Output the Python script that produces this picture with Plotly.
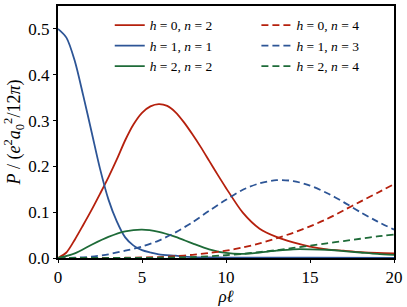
import plotly.graph_objects as go

# h=0, n=2 (red solid)
x_h0n2 = [0, 0.5, 1, 1.5, 2, 2.5, 3, 3.5, 4, 4.5, 5, 5.5, 6, 6.5, 7, 7.5, 8, 8.5, 9, 9.5, 10, 11, 12, 13, 14, 15, 16, 17, 18, 19, 20]
y_h0n2 = [0, 0.012, 0.04, 0.072, 0.105, 0.14, 0.176, 0.215, 0.257, 0.292, 0.317, 0.331, 0.336, 0.332, 0.318, 0.296, 0.27, 0.242, 0.212, 0.182, 0.153, 0.099, 0.064, 0.046, 0.034, 0.025, 0.019, 0.016, 0.013, 0.011, 0.01]
# h=1, n=1 (blue solid)
x_h1n1 = [0, 0.5, 1, 1.5, 2, 2.5, 3, 3.5, 4, 4.5, 5, 5.5, 6, 7, 8, 10, 15, 20]
y_h1n1 = [0.5, 0.481, 0.43, 0.355, 0.275, 0.195, 0.128, 0.08, 0.045, 0.027, 0.017, 0.012, 0.008, 0.005, 0.002, 0.001, 0.0005, 0.0003]
# h=2, n=2 (green solid)
x_h2n2 = [0, 1, 2, 3, 4, 5, 6, 7, 8, 9, 10, 11, 12, 13, 14, 15, 16, 17, 18, 19, 20]
y_h2n2 = [0, 0.01, 0.029, 0.046, 0.058, 0.062, 0.057, 0.046, 0.032, 0.019, 0.011, 0.009, 0.012, 0.016, 0.019, 0.019, 0.018, 0.015, 0.012, 0.009, 0.007]
# h=0, n=4 (red dashed)
x_h0n4 = [0, 2, 4, 6, 7, 8, 9, 10, 11, 12, 13, 14, 15, 16, 17, 18, 19, 20]
y_h0n4 = [0, 0, 0.0005, 0.002, 0.004, 0.007, 0.011, 0.016, 0.023, 0.032, 0.043, 0.055, 0.069, 0.085, 0.104, 0.123, 0.142, 0.161]
# h=1, n=3 (blue dashed)
x_h1n3 = [0, 1, 2, 3, 4, 5, 6, 7, 8, 9, 10, 11, 12, 13, 14, 15, 16, 17, 18, 19, 20]
y_h1n3 = [0, 0.0005, 0.003, 0.008, 0.016, 0.025, 0.038, 0.056, 0.078, 0.103, 0.127, 0.149, 0.163, 0.17, 0.168, 0.158, 0.142, 0.122, 0.1, 0.08, 0.062]
# h=2, n=4 (green dashed)
x_h2n4 = [0, 4, 6, 8, 10, 11, 12, 13, 14, 15, 16, 17, 18, 19, 20]
y_h2n4 = [0, 0, 0.0005, 0.002, 0.006, 0.009, 0.013, 0.017, 0.022, 0.027, 0.032, 0.037, 0.042, 0.047, 0.051]

x_ticks = [0, 5, 10, 15, 20]
y_ticks = [0.0, 0.1, 0.2, 0.3, 0.4, 0.5]

RED = "#b5200d"
BLUE = "#2d5596"
GREEN = "#1e6b38"
SERIF = "Liberation Serif, DejaVu Serif, serif"
DASH = "7px,4px"

series = [
    (x_h0n2, y_h0n2, RED, "solid", "<i>h</i> = 0, <i>n</i> = 2", "legend"),
    (x_h1n1, y_h1n1, BLUE, "solid", "<i>h</i> = 1, <i>n</i> = 1", "legend"),
    (x_h2n2, y_h2n2, GREEN, "solid", "<i>h</i> = 2, <i>n</i> = 2", "legend"),
    (x_h0n4, y_h0n4, RED, DASH, "<i>h</i> = 0, <i>n</i> = 4", "legend2"),
    (x_h1n3, y_h1n3, BLUE, DASH, "<i>h</i> = 1, <i>n</i> = 3", "legend2"),
    (x_h2n4, y_h2n4, GREEN, DASH, "<i>h</i> = 2, <i>n</i> = 4", "legend2"),
]

fig = go.Figure()
for xs, ys, c, d, name, lg in series:
    fig.add_trace(go.Scatter(x=xs, y=ys, mode="lines", name=name, legend=lg,
                             line=dict(color=c, width=1.8, dash=d, shape="spline", smoothing=0.8)))

axis_common = dict(showline=True, linecolor="black", linewidth=2, mirror=True,
                   showgrid=False, zeroline=False, ticks="outside", ticklen=3,
                   tickcolor="black", tickfont=dict(family=SERIF, size=17, color="black"))

legend_common = dict(orientation="v", y=0.985, xanchor="left", yanchor="top",
                     bgcolor="rgba(0,0,0,0)", tracegroupgap=0,
                     font=dict(family=SERIF, size=13.5, color="black"))

fig.update_layout(
    width=407, height=307,
    margin=dict(l=58, r=12, t=4, b=49),
    plot_bgcolor="white", paper_bgcolor="white",
    xaxis=dict(range=[0, 20], tickvals=x_ticks, ticktext=[str(v) for v in x_ticks],
               title=dict(text="<i>ρℓ</i>", font=dict(family=SERIF, size=17, color="black"), standoff=0),
               **axis_common),
    yaxis=dict(range=[0, 0.55], tickvals=y_ticks, ticktext=[f"{v:.1f}" for v in y_ticks],
               title=dict(text="<i>P</i> / (<i>e</i><sup>2</sup><i>a</i><sub>0</sub><sup>2</sup>/12<i>π</i>)",
                          font=dict(family=SERIF, size=18, color="black"), standoff=3),
               **axis_common),
    legend=dict(x=0.154, **legend_common),
    legend2=dict(x=0.5905, **legend_common),
    showlegend=True,
)

fig.write_html("out.html", config={"displayModeBar": False})

with open("out.html", "r", encoding="utf-8") as f:
    html = f.read()
html = html.replace("<body>", '<body style="margin:0;padding:0;overflow:hidden">', 1)
with open("out.html", "w", encoding="utf-8") as f:
    f.write(html)
